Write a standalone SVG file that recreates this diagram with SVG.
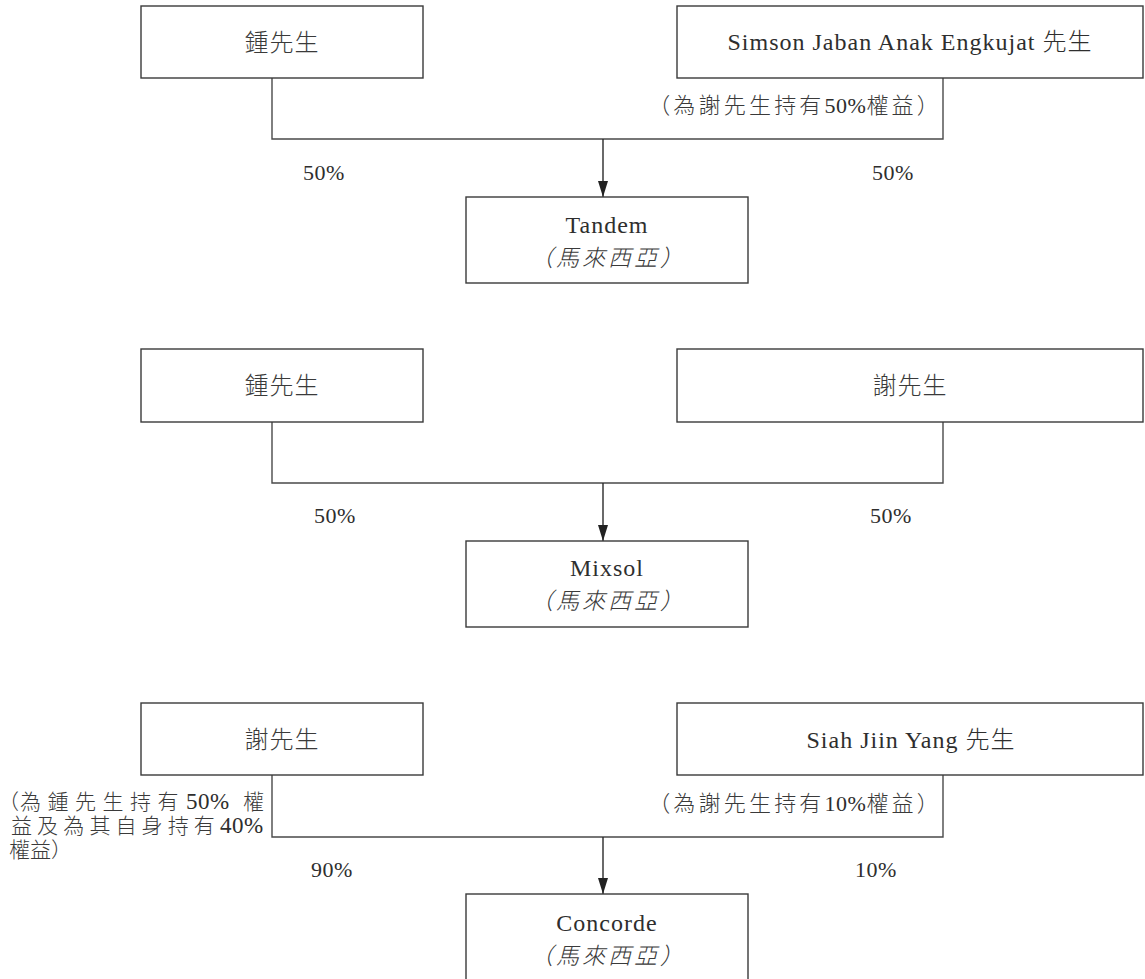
<svg xmlns="http://www.w3.org/2000/svg" width="1145" height="979" viewBox="0 0 1145 979">
<style>
  .box { fill: #ffffff; stroke: #3a3a3a; stroke-width: 1.4; }
  .line { fill: none; stroke: #4a4a4a; stroke-width: 1.4; }
  .arrow { fill: none; stroke: #2a2a2a; stroke-width: 1.4; marker-end: url(#ah); }
  text { font-family: "Liberation Serif", "Noto Sans CJK TC", serif; fill: #2e2e2e; }
  .name { font-size: 24px; font-weight: 300; letter-spacing: 1px; text-anchor: middle; }
  .cjk { font-family: "Noto Sans CJK TC", sans-serif; font-size: 24px; font-weight: 300; letter-spacing: 1px; text-anchor: middle; fill: #3a3a3a; }
  .country { font-family: "Noto Sans CJK TC", sans-serif; font-size: 23px; font-weight: 300; font-style: italic; letter-spacing: 3px; text-anchor: middle; fill: #3a3a3a; }
  .pct { font-size: 22px; letter-spacing: 0.5px; text-anchor: middle; }
  .note { font-size: 21px; font-weight: 300; fill: #3a3a3a; }
  .note .lat { font-size: 23px; letter-spacing: 0.5px; font-weight: 400; fill: #2e2e2e; }
  .noteR { font-size: 22px; font-weight: 300; letter-spacing: 3.2px; text-anchor: end; fill: #3a3a3a; }
  .noteR .lat { font-size: 22px; letter-spacing: 0.5px; font-weight: 400; fill: #2e2e2e; }
</style>
<defs>
  <marker id="ah" markerUnits="userSpaceOnUse" markerWidth="16" markerHeight="10" refX="16" refY="5" orient="auto">
    <path d="M0,0 L16,5 L0,10 z" fill="#222"/>
  </marker>
</defs>

<g id="connectors">
  <path class="line" d="M272,78 V139 H943 V78"/>
  <path class="arrow" d="M603,139 V197"/>
  <path class="line" d="M272,422 V483 H943 V422"/>
  <path class="arrow" d="M603,483 V541"/>
  <path class="line" d="M272,775 V837 H943 V775"/>
  <path class="arrow" d="M603,837 V894"/>
</g>

<g id="s1-zhong">
  <rect class="box" x="141" y="6" width="282" height="72"/>
  <text class="cjk" x="282" y="51">鍾先生</text>
</g>
<g id="s1-simson">
  <rect class="box" x="677" y="6" width="466" height="72"/>
  <text class="name" x="910" y="50">Simson Jaban Anak Engkujat 先生</text>
</g>
<text id="s1-note" class="noteR" x="942" y="113">（為謝先生持有<tspan class="lat">50%</tspan>權益）</text>
<text id="s1-pct-left" class="pct" x="324" y="180">50%</text>
<text id="s1-pct-right" class="pct" x="893" y="180">50%</text>
<g id="s1-tandem">
  <rect class="box" x="466" y="197" width="282" height="86"/>
  <text class="name" x="607" y="233">Tandem</text>
  <text class="country" x="608" y="266">（馬來西亞）</text>
</g>

<g id="s2-zhong">
  <rect class="box" x="141" y="349" width="282" height="73"/>
  <text class="cjk" x="282" y="394">鍾先生</text>
</g>
<g id="s2-xie">
  <rect class="box" x="677" y="349" width="466" height="73"/>
  <text class="cjk" x="910" y="394">謝先生</text>
</g>
<text id="s2-pct-left" class="pct" x="335" y="523">50%</text>
<text id="s2-pct-right" class="pct" x="891" y="523">50%</text>
<g id="s2-mixsol">
  <rect class="box" x="466" y="541" width="282" height="86"/>
  <text class="name" x="607" y="576">Mixsol</text>
  <text class="country" x="608" y="609">（馬來西亞）</text>
</g>

<g id="s3-xie">
  <rect class="box" x="141" y="703" width="282" height="72"/>
  <text class="cjk" x="282" y="748">謝先生</text>
</g>
<g id="s3-siah">
  <rect class="box" x="677" y="703" width="466" height="72"/>
  <text class="name" x="911" y="748">Siah Jiin Yang 先生</text>
</g>
<g id="s3-note-left">
  <text class="note" x="-2 20 47.5 75 102.5 130 157.5" y="809">（為鍾先生持有<tspan class="lat" x="186">50%</tspan><tspan x="243">權</tspan></text>
  <text class="note" x="11 37.1 63.2 89.4 115.5 141.6 167.7 193.8" y="833">益及為其自身持有<tspan class="lat" x="220">40%</tspan></text>
  <text class="note" x="9" y="857">權益）</text>
</g>
<text id="s3-note-right" class="noteR" x="942" y="811">（為謝先生持有<tspan class="lat">10%</tspan>權益）</text>
<text id="s3-pct-left" class="pct" x="332" y="877">90%</text>
<text id="s3-pct-right" class="pct" x="876" y="877">10%</text>
<g id="s3-concorde">
  <rect class="box" x="466" y="894" width="282" height="92"/>
  <text class="name" x="607" y="931">Concorde</text>
  <text class="country" x="608" y="964">（馬來西亞）</text>
</g>
</svg>
